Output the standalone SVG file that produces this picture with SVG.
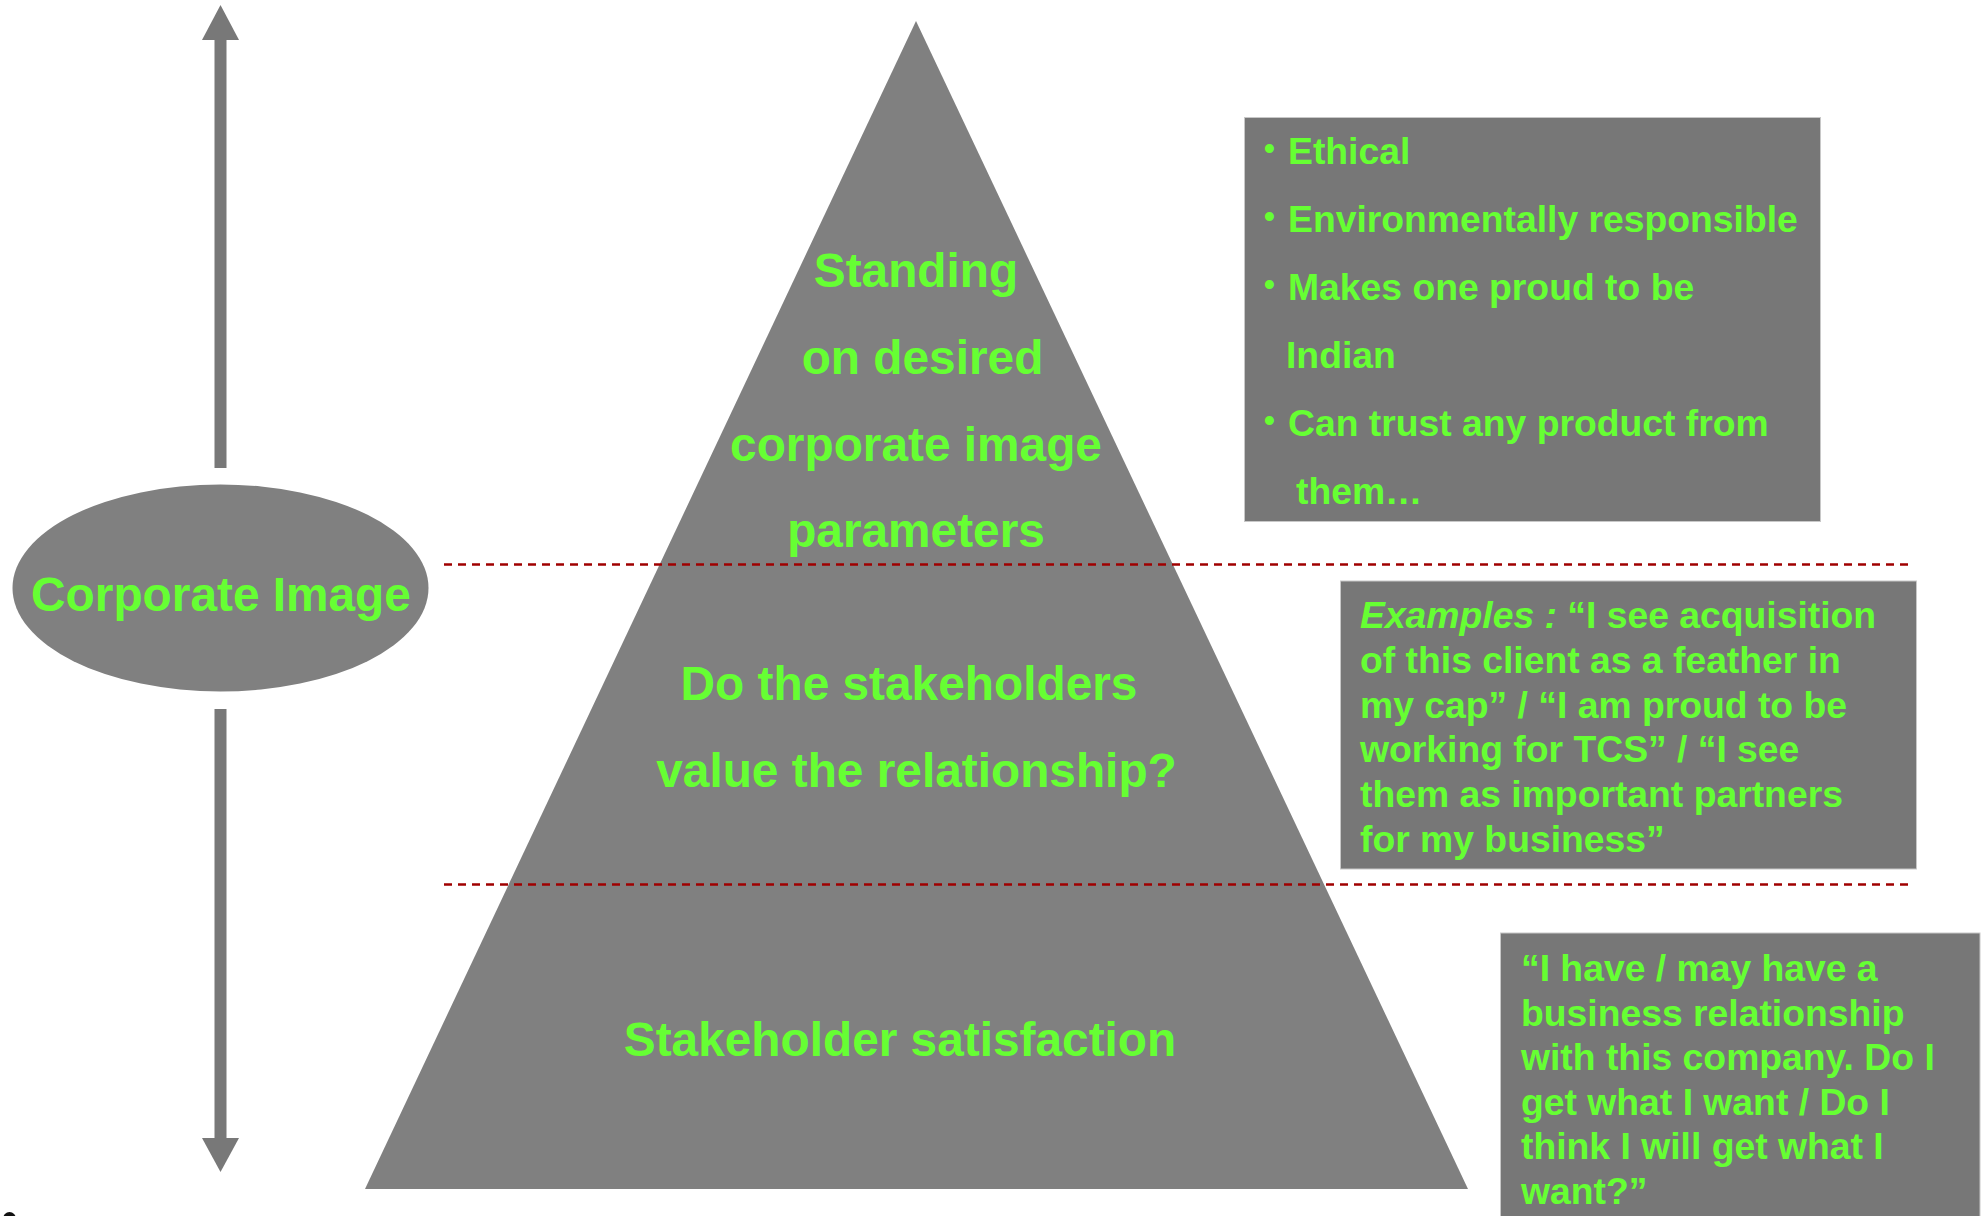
<svg xmlns="http://www.w3.org/2000/svg" width="1983" height="1216" viewBox="0 0 1983 1216">
<style>
.t{font-family:"Liberation Sans",Arial,sans-serif;font-weight:bold;fill:#66ff33}
.big{font-size:47.8px;text-anchor:middle}
.sm{font-size:37.3px}
.bul{font-size:31px}
.box{fill:#777777;stroke:#c8c8c8;stroke-width:1}
.dash{stroke:#a00000;stroke-width:2.5;stroke-dasharray:8 6;fill:none}
.arr{fill:#787878}
</style>
<rect width="1983" height="1216" fill="#ffffff"/>
<g id="connectors">
<rect class="arr" x="214.5" y="39" width="12" height="429"/>
<polygon class="arr" points="220.5,5 239,40 202,40"/>
<rect class="arr" x="214.5" y="709" width="12" height="430"/>
<polygon class="arr" points="202,1138 239,1138 220.5,1172"/>
</g>
<g id="pyramid">
<polygon points="916,21 1468,1189 365,1189" fill="#808080"/>
</g>
<g id="dividers">
<line class="dash" x1="444" y1="564.5" x2="1913" y2="564.5"/>
<line class="dash" x1="444" y1="884.5" x2="1913" y2="884.5"/>
</g>
<g id="corporate-image">
<ellipse cx="220.5" cy="588" rx="208" ry="103.5" fill="#808080"/>
<text class="t big" x="221" y="611">Corporate Image</text>
</g>
<g id="level-top">
<text class="t big" x="916" y="286.5">Standing</text>
<text class="t big" x="922.5" y="373.5">on desired</text>
<text class="t big" x="916" y="461">corporate image</text>
<text class="t big" x="916" y="547">parameters</text>
</g>
<g id="level-middle">
<text class="t big" x="909" y="699.5">Do the stakeholders</text>
<text class="t big" x="916.5" y="787">value the relationship?</text>
</g>
<g id="level-bottom">
<text class="t big" x="900" y="1056">Stakeholder satisfaction</text>
</g>
<g id="box-image-params">
<rect class="box" x="1244.5" y="117.5" width="576" height="404"/>
<text class="t bul" x="1264" y="159">•</text>
<text class="t sm" x="1288" y="164">Ethical</text>
<text class="t bul" x="1264" y="227">•</text>
<text class="t sm" x="1288" y="232">Environmentally responsible</text>
<text class="t bul" x="1264" y="295">•</text>
<text class="t sm" x="1288" y="300">Makes one proud to be</text>
<text class="t sm" x="1286" y="368">Indian</text>
<text class="t bul" x="1264" y="431">•</text>
<text class="t sm" x="1288" y="436">Can trust any product from</text>
<text class="t sm" x="1296" y="503.5">them…</text>
</g>
<g id="box-examples">
<rect class="box" x="1340.5" y="581" width="576" height="288"/>
<text class="t sm" x="1360" y="628"><tspan font-style="italic">Examples : </tspan>“I see acquisition</text>
<text class="t sm" x="1360" y="672.8">of this client as a feather in</text>
<text class="t sm" x="1360" y="717.6">my cap” / “I am proud to be</text>
<text class="t sm" x="1360" y="762.4">working for TCS” / “I see</text>
<text class="t sm" x="1360" y="807.2">them as important partners</text>
<text class="t sm" x="1360" y="852">for my business”</text>
</g>
<g id="box-satisfaction">
<rect class="box" x="1500.5" y="933" width="479.5" height="300"/>
<text class="t sm" x="1521" y="981">“I have / may have a</text>
<text class="t sm" x="1521" y="1025.5">business relationship</text>
<text class="t sm" x="1521" y="1070">with this company. Do I</text>
<text class="t sm" x="1521" y="1114.5">get what I want / Do I</text>
<text class="t sm" x="1521" y="1159">think I will get what I</text>
<text class="t sm" x="1521" y="1203.5">want?”</text>
</g>
<ellipse cx="9.5" cy="1219" rx="6.5" ry="7" fill="#111111"/>
</svg>
